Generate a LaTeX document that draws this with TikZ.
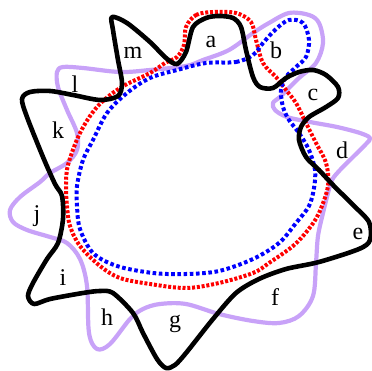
\documentclass[tikz,border=0pt]{standalone}
\usepackage{fontspec}
\setmainfont{Liberation Serif}
\begin{document}
\begin{tikzpicture}[x=1pt,y=-1pt,
  blackline/.style={line width=4.6pt,black,line join=round},
  purpleline/.style={line width=4.2pt,color={rgb,255:red,200;green,162;blue,248},line join=round},
  reddots/.style={line width=4pt,red,dash pattern=on 3pt off 1.8pt},
  bluedots/.style={line width=4pt,blue,dash pattern=on 3.6pt off 2.6pt},
  lab/.style={font=\fontsize{24}{24}\selectfont,inner sep=0pt}]
\useasboundingbox (0,0) rectangle (372,371);
% purple
\draw[purpleline] plot[smooth cycle,tension=0.55] coordinates {
(186,66) (203,60) (229,50) (253,33) (269,23) (289,13) (309,15) (319,23) (323,43) (316,63) (299,78) (281,96) (273,103) (275,110) (287,117) (310,122) (337,127) (360,133) (370,138) (366,144) (353,157) (340,170) (332,180) (328,193) (323,213) (318,236) (316,263) (313,296) (299,316) (279,323) (253,321) (219,314) (186,304) (160,304) (143,309) (130,319) (110,344) (97,349) (89,333) (87,286) (80,259) (67,243) (50,237) (27,230) (13,222) (10,210) (20,197) (40,182) (50,173) (67,163) (77,150) (77,133) (67,110) (58,87) (57,72) (63,67) (83,68) (120,72) (150,70)};
% red
\draw[reddots] plot[smooth cycle,tension=0.55] coordinates {
(186,27) (196,15) (213,12) (236,13) (251,22) (256,40) (263,63) (276,77) (286,90) (296,103) (306,123) (316,143) (326,163) (328,186) (319,213) (308,230) (293,246) (269,263) (253,273) (219,283) (186,288) (150,284) (120,278) (100,266) (80,246) (70,226) (67,206) (66,186) (68,165) (80,133) (97,107) (120,88) (150,73) (165,63) (177,57) (184,45)};
% blue
\draw[bluedots] plot[smooth cycle,tension=0.55] coordinates {
(206,63) (236,62) (253,55) (263,43) (276,29) (289,20) (303,23) (309,40) (306,57) (296,67) (286,77) (281,90) (283,107) (289,120) (299,133) (309,150) (315,170) (314,188) (309,206) (296,223) (279,243) (253,259) (219,271) (186,274) (153,273) (117,266) (93,253) (80,229) (77,206) (77,186) (83,160) (93,140) (107,113) (127,93) (150,78) (177,70)};
% black
\draw[blackline] plot[smooth cycle,tension=0.5] coordinates {
(112,17) (127,23) (150,42) (166,58) (177,64) (186,52) (193,27) (206,18) (219,16) (233,18) (241,27) (246,50) (253,77) (260,87) (273,88) (286,78) (299,72) (313,70) (326,75) (338,87) (338,98) (326,107) (309,117) (301,127) (299,140) (306,157) (319,170) (333,185) (352,204) (369,222) (370,240) (359,249) (319,262) (286,269) (259,279) (236,293) (213,319) (186,353) (175,365) (166,368) (157,359) (143,333) (133,313) (113,293) (100,291) (83,293) (50,299) (34,304) (28,296) (33,283) (47,259) (58,243) (63,219) (62,196) (55,184) (43,157) (27,117) (22,99) (30,92) (50,91) (73,95) (100,100) (118,96) (122,83) (118,60) (113,30)};
% labels
\node[lab] (la) at (211,42) {a};
\node[lab] (lb) at (276,50) {b};
\node[lab] (lc) at (313,95) {c};
\node[lab] (ld) at (342,150) {d};
\node[lab] (le) at (358,234) {e};
\node[lab] (lf) at (275,297) {f};
\node[lab] (lg) at (175,324) {g};
\node[lab] (lh) at (107,317) {h};
\node[lab] (li) at (63,278) {i};
\node[lab] (lj) at (37,216) {j};
\node[lab] (lk) at (58,130) {k};
\node[lab] (ll) at (75,84) {l};
\node[lab] (lm) at (133,53) {m};
\end{tikzpicture}
\end{document}
